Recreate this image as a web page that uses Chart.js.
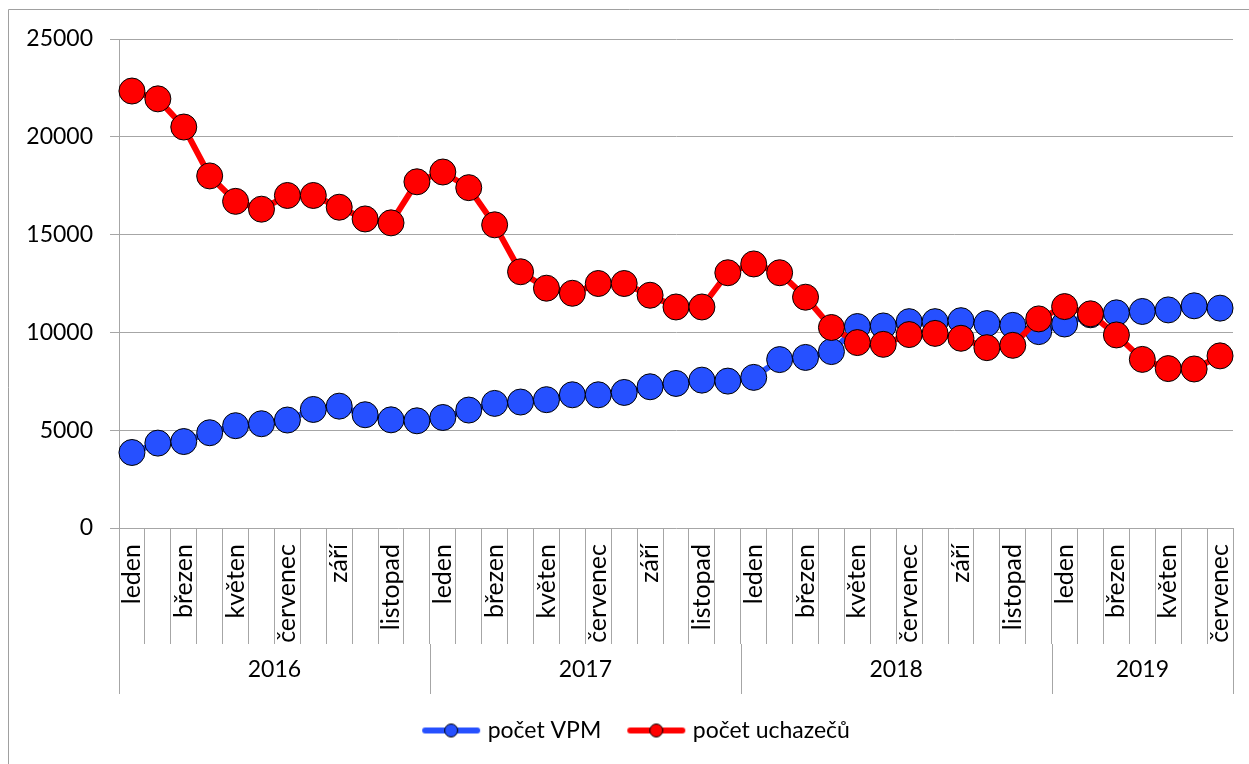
<!DOCTYPE html>
<html>
<head>
<meta charset="utf-8">
<script src="https://cdn.jsdelivr.net/npm/chart.js@4"></script>
<style>
  html, body { margin: 0; padding: 0; background: #fff; }
  #wrap { width: 1249px; height: 764px; }
</style>
</head>
<body>
<div id="wrap"><canvas id="chart" width="1249" height="764"></canvas></div>
<script>
// month names (categories) and year groups
const monthNames = ['leden', 'únor', 'březen', 'duben', 'květen', 'červen', 'červenec', 'srpen', 'září', 'říjen', 'listopad', 'prosinec'];
const years = ['2016', '2017', '2018', '2019'];
const monthsInYear = [12, 12, 12, 7];

// y axis ticks
const yTicks = [0, 5000, 10000, 15000, 20000, 25000];

// series values, Jan 2016 .. Jul 2019
const pocetVPM = [3860, 4340, 4420, 4870, 5230, 5330, 5520, 6060, 6230, 5790, 5530, 5480,
                  5650, 6030, 6370, 6440, 6560, 6810, 6810, 6930, 7220, 7390, 7560, 7510,
                  7700, 8610, 8720, 9020, 10300, 10330, 10550, 10550, 10600, 10450, 10360, 10040,
                  10430, 10900, 11000, 11070, 11150, 11360, 11240];
const pocetUchazecu = [22340, 21940, 20500, 18000, 16700, 16300, 17000, 17000, 16400, 15800, 15600, 17700,
                       18200, 17400, 15500, 13100, 12260, 12000, 12500, 12500, 11900, 11300, 11300, 13050,
                       13500, 13050, 11800, 10250, 9480, 9390, 9890, 9950, 9700, 9220, 9340, 10690,
                       11320, 10950, 9870, 8620, 8150, 8130, 8800];

const labels = [];
years.forEach((y, i) => {
    for (let m = 0; m < monthsInYear[i]; m++) labels.push(monthNames[m]);
});

const BLUE = '#2650FF';
const RED = '#FF0000';
const GRID = '#a6a6a6';
const FONT = 'Lato';

// legend icon: thick line with a marker in the middle
function legendIcon(color) {
    const c = document.createElement('canvas');
    c.width = 60; c.height = 16;
    const g = c.getContext('2d');
    g.strokeStyle = color;
    g.lineWidth = 6;
    g.lineCap = 'round';
    g.beginPath(); g.moveTo(4, 8); g.lineTo(56, 8); g.stroke();
    g.fillStyle = color;
    g.strokeStyle = '#000';
    g.lineWidth = 1;
    g.beginPath(); g.arc(30, 8, 6.5, 0, Math.PI * 2); g.fill(); g.stroke();
    return c;
}
const icons = [legendIcon(BLUE), legendIcon(RED)];

const MONTH_ROW = 116;  // height of month label cells
const YEAR_ROW = 50;    // height of year cells

// draws year row, its separators and the outer frame
const yearRows = {
    id: 'yearRows',
    afterLayout(chart) {
        // legend in the original is centred a bit right of the canvas middle
        chart.legend.left += 23;
    },
    beforeDraw(chart) {
        const ctx = chart.ctx;
        ctx.save();
        ctx.strokeStyle = '#a0a0a0';
        ctx.lineWidth = 1;
        ctx.beginPath();
        ctx.moveTo(8.5, 800); ctx.lineTo(8.5, 9.5); ctx.lineTo(1300, 9.5);
        ctx.stroke();
        ctx.restore();
    },
    afterDraw(chart) {
        const x = chart.scales.x;
        const ctx = chart.ctx;
        const half = (x.getPixelForValue(1) - x.getPixelForValue(0)) / 2;
        const top = x.top + MONTH_ROW;
        ctx.save();
        ctx.strokeStyle = GRID;
        ctx.lineWidth = 1;
        ctx.fillStyle = '#000';
        ctx.font = '23px ' + FONT;
        ctx.textAlign = 'center';
        ctx.textBaseline = 'middle';
        let start = 0;
        years.forEach((y, i) => {
            const end = start + monthsInYear[i];
            const x0 = x.getPixelForValue(start) - half;
            const x1 = x.getPixelForValue(end) - half;
            [x0, x1].forEach(px => {
                const p = Math.round(px) + 0.5;
                ctx.beginPath(); ctx.moveTo(p, top); ctx.lineTo(p, top + YEAR_ROW); ctx.stroke();
            });
            ctx.fillText(y, (x0 + x1) / 2, top + YEAR_ROW / 2 + 1);
            start = end;
        });
        ctx.restore();
    }
};

const ctx = document.getElementById('chart').getContext('2d');
const chart = new Chart(ctx, {
    type: 'line',
    data: {
        labels: labels,
        datasets: [{
            label: 'počet VPM',
            data: pocetVPM,
            borderColor: BLUE,
            backgroundColor: BLUE,
            borderWidth: 6,
            pointRadius: 13,
            pointBorderColor: '#000',
            pointBorderWidth: 1,
            pointBackgroundColor: BLUE,
            order: 1
        }, {
            label: 'počet uchazečů',
            data: pocetUchazecu,
            borderColor: RED,
            backgroundColor: RED,
            borderWidth: 6,
            pointRadius: 13,
            pointBorderColor: '#000',
            pointBorderWidth: 1,
            pointBackgroundColor: RED,
            order: 0
        }]
    },
    options: {
        responsive: false,
        animation: false,
        events: [],
        layout: {
            padding: { left: 20, right: 16, top: 39, bottom: 12 }
        },
        scales: {
            x: {
                offset: true,
                grid: {
                    offset: true,
                    drawOnChartArea: false,
                    tickLength: MONTH_ROW,
                    color: GRID
                },
                border: { display: false },
                ticks: {
                    autoSkip: false,
                    minRotation: 90,
                    maxRotation: 90,
                    padding: -100,
                    color: '#000',
                    font: { family: FONT, size: 25 },
                    callback: function(value, index) {
                        return index % 2 === 0 ? this.getLabelForValue(value) : '';
                    }
                },
                afterFit(scale) { scale.height = 161; }
            },
            y: {
                min: 0,
                max: 25000,
                afterBuildTicks(scale) { scale.ticks = yTicks.map(v => ({ value: v })); },
                grid: { color: GRID, tickLength: 9 },
                border: { color: GRID },
                ticks: {
                    padding: 17,
                    color: '#000',
                    font: { family: FONT, size: 23 },
                    callback: (v) => String(v)
                },
                afterFit(scale) { scale.width = 99; }
            }
        },
        plugins: {
            legend: {
                position: 'bottom',
                labels: {
                    usePointStyle: true,
                    pointStyleWidth: 50,
                    padding: 30,
                    color: '#000',
                    font: { family: FONT, size: 23 },
                    sort: (a, b) => a.datasetIndex - b.datasetIndex,
                    generateLabels(chart) {
                        const items = Chart.defaults.plugins.legend.labels.generateLabels(chart);
                        items.forEach(it => { it.pointStyle = icons[it.datasetIndex]; });
                        return items;
                    }
                }
            },
            tooltip: { enabled: false }
        }
    },
    plugins: [yearRows]
});
</script>
</body>
</html>
